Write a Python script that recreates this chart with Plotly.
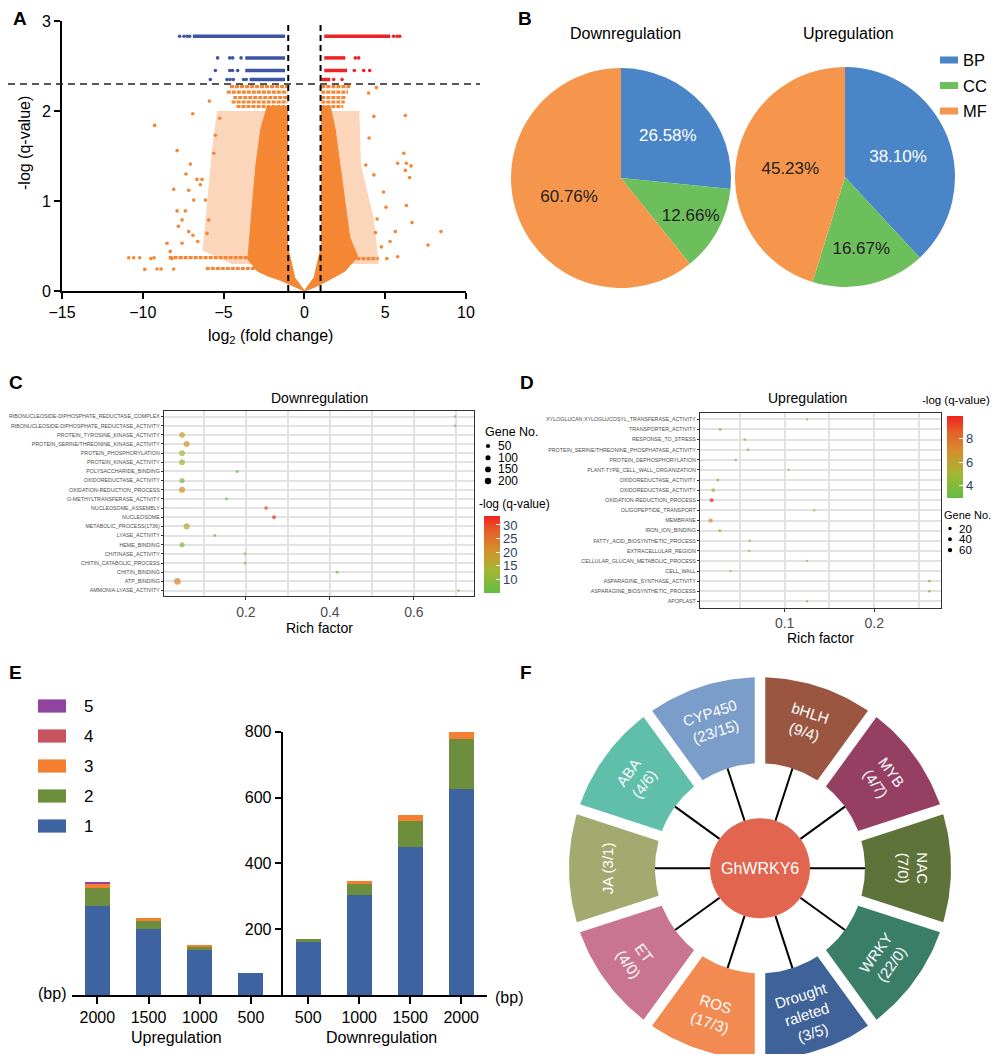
import math
import plotly.graph_objects as go

# the page body keeps an 8 px margin, so the figure is sized to fit the window inside it
OFF = 8
W, H = 1000 - 2 * OFF, 1062 - 2 * OFF
FONT = "Arial, Liberation Sans, sans-serif"

# ---------------- A: volcano plot ----------------
ORANGE, BLUE, RED = "#F58634", "#3B54A4", "#EC2227"

# loosely scattered halo of points (outline)
a_halo_l_x = [-5.4, -1.05, -1.05, -4.5, -6.3, -6.0, -5.7, -5.4]
a_halo_l_y = [2.0, 2.0, 0.3, 0.3, 0.45, 1.0, 1.6, 2.0]
a_halo_r_x = [1.05, 3.4, 3.5, 4.3, 4.6, 1.05, 1.05]
a_halo_r_y = [2.0, 2.0, 1.4, 0.8, 0.3, 0.3, 2.0]
# dense, solid part of the cloud
a_core_l_x = [-1.05, -2.3, -2.7, -3.0, -3.2, -3.4, -3.5, -2.9, -2.3, -1.5, -0.6, 0, -0.6, -1.05, -1.05]
a_core_l_y = [2.05, 2.05, 1.8, 1.4, 1.0, 0.6, 0.35, 0.22, 0.17, 0.12, 0.05, 0, 0.15, 0.5, 2.05]
a_core_r_x = [1.05, 1.6, 1.9, 2.2, 2.5, 2.8, 3.3, 2.5, 1.5, 0.6, 0, 0.6, 1.05, 1.05]
a_core_r_y = [2.05, 2.05, 1.8, 1.4, 1.0, 0.6, 0.38, 0.22, 0.12, 0.04, 0, 0.15, 0.5, 2.05]
# isolated points
a_out_x = [-9.27, -6.91, -7.88, -7.06, -7.33, -8.09, -6.65, -6.34, -7.16, -6.85, -7.88, -7.37,
           -7.57, -8.5, -8.3, -7.57, -10.87, -10.56, -10.19, -9.88, -9.5, -9.3, -9.12, -8.87,
           -8.09, -5.88, -5.24, -5.51, -5.61, -6.44, -6.13, -5.92, -6.03, -7.16, -6.6, -6.9,
           -7.8, -8.2,
           6.25, 6.15, 5.77, 6.31, 6.6, 6.25, 6.51, 6.31, 6.66, 8.45, 7.65, 5.77, 5.63, 5.05,
           4.3, 4.3, 3.97, 4.45, 5.1, 4.76, 4.5, 4.9, 4.0, 3.8, 4.4, 5.3]
a_out_y = [1.84, 1.97, 1.56, 1.41, 1.30, 1.13, 1.24, 1.24, 1.12, 1.01, 0.89, 0.89,
           0.79, 0.53, 0.44, 0.53, 0.37, 0.37, 0.37, 0.24, 0.36, 0.37, 0.245, 0.245,
           0.245, 2.11, 1.92, 1.73, 1.53, 1.18, 1.01, 0.79, 0.64, 0.66, 0.55, 0.62,
           0.72, 0.36,
           1.95, 1.53, 1.42, 1.42, 1.39, 1.34, 1.26, 0.95, 0.76, 0.66, 0.51, 0.38, 0.66, 0.93,
           1.29, 1.94, 2.2, 2.26, 0.36, 0.49, 0.8, 1.1, 1.7, 1.4, 0.65, 0.55]
# rows of points at discrete q-values
a_orange_row_y = [2.27, 2.21, 2.15, 2.10, 2.05, 0.37, 0.25, 2.27, 2.21, 2.15, 2.10, 2.05, 0.36]
a_orange_row_x0 = [-4.6, -4.8, -4.4, -4.5, -4.2, -8.4, -6.1, 1.05, 1.05, 1.05, 1.05, 1.05, 2.6]
a_orange_row_x1 = [-1.05, -1.05, -1.05, -1.05, -1.05, -2.3, -2.8, 2.9, 2.7, 2.6, 2.5, 2.4, 4.6]
a_blue_row_y = [2.83, 2.59, 2.45, 2.35]
a_blue_row_x0 = [-6.9, -3.66, -3.66, -3.39]
a_blue_row_x1 = [-1.2, -1.2, -1.2, -1.2]
a_blue_dot_x = [-7.72, -7.45, -7.25, -7.1, -5.37, -4.62, -4.44, -3.92, -5.51, -4.62, -4.45,
                -4.13, -5.82, -4.79, -4.6, -4.4, -3.76, -3.6]
a_blue_dot_y = [2.83, 2.83, 2.83, 2.83, 2.59, 2.59, 2.59, 2.59, 2.45, 2.45, 2.45,
                2.45, 2.35, 2.35, 2.35, 2.35, 2.35, 2.35]
a_red_row_y = [2.83, 2.59, 2.45, 2.35]
a_red_row_x0 = [1.23, 1.23, 1.23, 1.05]
a_red_row_x1 = [5.32, 2.53, 2.64, 1.6]
a_red_dot_x = [5.52, 5.73, 5.9, 3.15, 3.36, 3.09, 3.67, 4.04, 1.81, 2.33]
a_red_dot_y = [2.83, 2.83, 2.83, 2.59, 2.59, 2.45, 2.45, 2.45, 2.35, 2.35]
a_fc_cut = [-1, 1]
a_q_cut = 2.3

# ---------------- B: GO category pies ----------------
go_cats = ["BP", "CC", "MF"]
go_colors = ["#4A85C7", "#6DBF5B", "#F6964D"]
pie_down = [26.58, 12.66, 60.76]
pie_up = [38.10, 16.67, 45.23]

# ---------------- C: downregulated enrichment ----------------
c_terms = ["RIBONUCLEOSIDE-DIPHOSPHATE_REDUCTASE_COMPLEX", "RIBONUCLEOSIDE-DIPHOSPHATE_REDUCTASE_ACTIVITY",
           "PROTEIN_TYROSINE_KINASE_ACTIVITY", "PROTEIN_SERINE/THREONINE_KINASE_ACTIVITY",
           "PROTEIN_PHOSPHORYLATION", "PROTEIN_KINASE_ACTIVITY", "POLYSACCHARIDE_BINDING",
           "OXIDOREDUCTASE_ACTIVITY", "OXIDATION-REDUCTION_PROCESS", "O-METHYLTRANSFERASE_ACTIVITY",
           "NUCLEOSOME_ASSEMBLY", "NUCLEOSOME", "METABOLIC_PROCESS(1736)", "LYASE_ACTIVITY",
           "HEME_BINDING", "CHITINASE_ACTIVITY", "CHITIN_CATABOLIC_PROCESS", "CHITIN_BINDING",
           "ATP_BINDING", "AMMONIA-LYASE_ACTIVITY"]
c_rich = [0.698, 0.698, 0.048, 0.059, 0.048, 0.048, 0.179, 0.048, 0.048, 0.154,
          0.248, 0.267, 0.059, 0.126, 0.048, 0.198, 0.198, 0.417, 0.037, 0.706]
c_genes = [4, 4, 150, 170, 150, 150, 15, 100, 180, 10, 30, 35, 170, 12, 100, 8, 8, 12, 220, 6]
c_logq = [7, 7, 19, 20, 14, 14, 7, 8.5, 21, 7, 31, 33, 16, 7, 9, 7, 7, 7, 23, 7]
c_size_keys = [50, 100, 150, 200]

# ---------------- D: upregulated enrichment ----------------
d_terms = ["XYLOGLUCAN:XYLOGLUCOSYL_TRANSFERASE_ACTIVITY", "TRANSPORTER_ACTIVITY", "RESPONSE_TO_STRESS",
           "PROTEIN_SERINE/THREONINE_PHOSPHATASE_ACTIVITY", "PROTEIN_DEPHOSPHORYLATION",
           "PLANT-TYPE_CELL_WALL_ORGANIZATION", "OXIDOREDUCTASE_ACTIVITY", "OXIDOREDUCTASE_ACTIVITY",
           "OXIDATION-REDUCTION_PROCESS", "OLIGOPEPTIDE_TRANSPORT", "MEMBRANE", "IRON_ION_BINDING",
           "FATTY_ACID_BIOSYNTHETIC_PROCESS", "EXTRACELLULAR_REGION", "CELLULAR_GLUCAN_METABOLIC_PROCESS",
           "CELL_WALL", "ASPARAGINE_SYNTHASE_ACTIVITY", "ASPARAGINE_BIOSYNTHETIC_PROCESS", "APOPLAST"]
d_rich = [0.125, 0.028, 0.0555, 0.059, 0.0455, 0.1045, 0.0254, 0.0203, 0.0185, 0.133,
          0.0174, 0.0276, 0.061, 0.0604, 0.125, 0.0395, 0.2615, 0.2615, 0.125]
d_genes = [2, 10, 4, 4, 5, 2, 15, 35, 50, 2, 55, 20, 3, 3, 2, 3, 10, 10, 2]
d_logq = [3.5, 3.6, 3.5, 3.5, 3.5, 3.4, 3.8, 5.5, 9.8, 3.4, 7.2, 4.6, 3.5, 3.5, 3.4, 3.5, 3.8, 3.8, 3.4]
d_size_keys = [20, 40, 60]

# ---------------- E: promoter motif counts ----------------
e_up_len = ["2000", "1500", "1000", "500"]
e_down_len = ["500", "1000", "1500", "2000"]
e_levels = ["1", "2", "3", "4", "5"]
e_colors = ["#3D63A0", "#6C8E3D", "#F47F31", "#C7535E", "#8F45A0"]
e_up = [[270, 200, 137, 68], [56, 26, 11, 0], [13, 9, 3, 0], [1, 0, 0, 0], [3, 0, 0, 0]]
e_down = [[161, 304, 450, 625], [10, 37, 78, 153], [0, 6, 19, 21], [0, 0, 0, 0], [0, 0, 0, 0]]

# ---------------- F: interaction wheel ----------------
f_hub = "GhWRKY6"
f_labels = ["bHLH<br>(9/4)", "MYB<br>(4/7)", "NAC<br>(7/0)", "WRKY<br>(22/0)",
            "Drought<br>raleted<br>(3/5)", "ROS<br>(17/3)", "ET<br>(4/0)", "JA (3/1)",
            "ABA<br>(4/6)", "CYP450<br>(23/15)"]
f_colors = ["#9A5641", "#953F63", "#5E7339", "#3B7E67", "#3F6299",
            "#F38A51", "#C97591", "#A3AA6F", "#5FBFAA", "#7A9DC9"]

CSCALE = [[0, "#62BD45"], [0.3, "#A4B632"], [0.55, "#D2912B"], [0.8, "#E5612A"], [1, "#F0231E"]]


def dot_size(n):
    return 1.8 + 0.33 * math.sqrt(n)


def segs(x0s, x1s, ys):
    xs, yy = [], []
    for a, b, y in zip(x0s, x1s, ys):
        xs += [a, b, None]
        yy += [y, y, None]
    return xs, yy


def fx(p):
    return (p - OFF) / W


def fy(p):
    return 1 - (p - OFF) / H


def note(x, y, text, size=14, xa="center", ya="middle", color="black", bold=False, **kw):
    if bold:
        text = "<b>" + text + "</b>"
    return dict(x=fx(x), y=fy(y), xref="paper", yref="paper", text=text, showarrow=False,
                xanchor=xa, yanchor=ya, font=dict(family=FONT, size=size, color=color), **kw)


fig = go.Figure()
ann, shapes = [], []

# ---- A ----
for xs, ys in [(a_halo_l_x, a_halo_l_y), (a_halo_r_x, a_halo_r_y)]:
    fig.add_trace(go.Scatter(x=xs, y=ys, mode="lines", fill="toself", line=dict(width=0),
                             fillcolor="rgba(245,134,52,0.34)", xaxis="x", yaxis="y", hoverinfo="skip"))
for xs, ys in [(a_core_l_x, a_core_l_y), (a_core_r_x, a_core_r_y)]:
    fig.add_trace(go.Scatter(x=xs, y=ys, mode="lines", fill="toself", line=dict(width=1, color=ORANGE),
                             fillcolor=ORANGE, xaxis="x", yaxis="y", hoverinfo="skip"))
rx, ry = segs(a_orange_row_x0, a_orange_row_x1, a_orange_row_y)
fig.add_trace(go.Scatter(x=rx, y=ry, mode="lines", line=dict(width=3.2, color=ORANGE, dash="4px,1px"),
                         xaxis="x", yaxis="y"))
fig.add_trace(go.Scatter(x=a_out_x, y=a_out_y, mode="markers", marker=dict(size=3.6, color=ORANGE),
                         xaxis="x", yaxis="y"))
for x0, x1, yy, dx, dy, col in [(a_blue_row_x0, a_blue_row_x1, a_blue_row_y, a_blue_dot_x, a_blue_dot_y, BLUE),
                                (a_red_row_x0, a_red_row_x1, a_red_row_y, a_red_dot_x, a_red_dot_y, RED)]:
    rx, ry = segs(x0, x1, yy)
    fig.add_trace(go.Scatter(x=rx, y=ry, mode="lines", line=dict(width=3.5, color=col),
                             xaxis="x", yaxis="y"))
    fig.add_trace(go.Scatter(x=dx, y=dy, mode="markers", marker=dict(size=3.6, color=col),
                             xaxis="x", yaxis="y"))
for xc in a_fc_cut:
    shapes.append(dict(type="line", xref="x", yref="y", x0=xc, x1=xc, y0=0, y1=3,
                       line=dict(color="black", width=2, dash="6px,4px")))
shapes.append(dict(type="line", xref="paper", yref="y", x0=fx(OFF), x1=fx(480), y0=a_q_cut, y1=a_q_cut,
                   line=dict(color="#222", width=1.3, dash="7px,5px")))
ann += [note(20, 18, "A", 19, bold=True),
        note(25, 143, "-log (q-value)", 16, textangle=-90),
        note(270, 336, "log<sub>2</sub> (fold change)", 16)]

# ---- B ----
for vals, x0, x1, y0, y1, title, tx in [(pie_down, 511, 731, 68, 288, "Downregulation", 625),
                                        (pie_up, 735, 955, 67, 287, "Upregulation", 848)]:
    fig.add_trace(go.Pie(labels=go_cats, values=vals, sort=False, direction="clockwise", rotation=0,
                         domain=dict(x=[fx(x0), fx(x1)], y=[fy(y1), fy(y0)]),
                         marker=dict(colors=go_colors, line=dict(width=0)),
                         texttemplate="%{value:.2f}%", textposition="inside",
                         insidetextorientation="horizontal",
                         textfont=dict(family=FONT, size=17, color=["white", "#222", "#222"]),
                         hoverinfo="skip"))
    ann.append(note(tx, 33, title, 16))
for i, (cat, col) in enumerate(zip(go_cats, go_colors)):
    yc = 60 + i * 25.5
    shapes.append(dict(type="rect", xref="paper", yref="paper", x0=fx(940), x1=fx(958),
                       y0=fy(yc + 3.5), y1=fy(yc - 3.5), fillcolor=col, line=dict(width=0)))
    ann.append(note(961, yc, cat, 16.5, xa="left"))
ann.append(note(525, 18, "B", 19, bold=True))

# ---- C ----
fig.add_trace(go.Scatter(x=c_rich, y=list(range(len(c_terms))), mode="markers",
                         marker=dict(size=[dot_size(n) for n in c_genes], color=c_logq,
                                     coloraxis="coloraxis", line=dict(width=0)),
                         xaxis="x2", yaxis="y2"))
ann += [note(16, 383, "C", 19, bold=True),
        note(319, 398, "Downregulation", 14),
        note(319, 628, "Rich factor", 14),
        note(483, 432, "Gene No.", 12.5, xa="left"),
        note(477, 504, "-log (q-value)", 12, xa="left")]
for i, n in enumerate(c_size_keys):
    yc = 446 + i * 11.7
    d = dot_size(n)
    shapes.append(dict(type="circle", xref="paper", yref="paper", x0=fx(488 - d / 2), x1=fx(488 + d / 2),
                       y0=fy(yc + d / 2), y1=fy(yc - d / 2), fillcolor="black", line=dict(width=0)))
    ann.append(note(496, yc, str(n), 12, xa="left"))

# ---- D ----
fig.add_trace(go.Scatter(x=d_rich, y=list(range(len(d_terms))), mode="markers",
                         marker=dict(size=[dot_size(n) for n in d_genes], color=d_logq,
                                     coloraxis="coloraxis2", line=dict(width=0)),
                         xaxis="x3", yaxis="y3"))
ann += [note(527, 383, "D", 19, bold=True),
        note(807, 398, "Upregulation", 14),
        note(820, 638, "Rich factor", 14),
        note(942, 515, "Gene No.", 11, xa="left"),
        note(920, 400, "-log (q-value)", 11.5, xa="left")]
for i, n in enumerate(d_size_keys):
    yc = 528.5 + i * 10.8
    d = dot_size(n)
    shapes.append(dict(type="circle", xref="paper", yref="paper", x0=fx(950 - d / 2), x1=fx(950 + d / 2),
                       y0=fy(yc + d / 2), y1=fy(yc - d / 2), fillcolor="black", line=dict(width=0)))
    ann.append(note(957, yc, str(n), 11.5, xa="left"))

# ---- E ----
for lvl, col, up, down in zip(e_levels, e_colors, e_up, e_down):
    fig.add_trace(go.Bar(x=e_up_len, y=up, marker=dict(color=col, line=dict(width=0)),
                         xaxis="x4", yaxis="y4"))
    fig.add_trace(go.Bar(x=e_down_len, y=down, marker=dict(color=col, line=dict(width=0)),
                         xaxis="x5", yaxis="y5"))
for i, (lvl, col) in enumerate(zip(e_levels[::-1], e_colors[::-1])):
    yc = 706 + i * 30
    shapes.append(dict(type="rect", xref="paper", yref="paper", x0=fx(38), x1=fx(66),
                       y0=fy(yc + 6.6), y1=fy(yc - 6.6), fillcolor=col, line=dict(width=0)))
    ann.append(note(82, yc, lvl, 17, xa="left"))
ann += [note(15, 672, "E", 19, bold=True),
        note(52, 993, "(bp)", 16),
        note(493, 997, "(bp)", 16, xa="left"),
        note(176, 1037, "Upregulation", 16),
        note(381, 1037, "Downregulation", 16)]

# ---- F ----
R_OUT, R_IN, HUB, GAP, LABEL_R = 191, 105, 50, 10.5, 153
nseg = len(f_labels)
for k, (lab, col) in enumerate(zip(f_labels, f_colors)):
    g0, g1 = 2 * math.pi * k / nseg, 2 * math.pi * (k + 1) / nseg
    xs, ys = [], []
    for r, rev in [(R_OUT, False), (R_IN, True)]:
        off = math.asin(GAP / 2 / r)
        steps = [g0 + off + (g1 - g0 - 2 * off) * j / 30 for j in range(31)]
        if rev:
            steps = steps[::-1]
        xs += [r * math.sin(a) for a in steps]
        ys += [r * math.cos(a) for a in steps]
    fig.add_trace(go.Scatter(x=xs, y=ys, mode="lines", fill="toself", fillcolor=col,
                             line=dict(width=0), xaxis="x6", yaxis="y6", hoverinfo="skip"))
    mid = 360 * (k + 0.5) / nseg
    rot = mid if mid <= 90 else (mid - 180 if mid < 270 else mid - 360)
    ann.append(dict(x=LABEL_R * math.sin(math.radians(mid)), y=LABEL_R * math.cos(math.radians(mid)),
                    xref="x6", yref="y6", text=lab, showarrow=False, textangle=rot,
                    font=dict(family=FONT, size=15, color="white")))
sx, sy = [], []
for k in range(nseg):
    a = 2 * math.pi * (k + 0.5) / nseg
    sx += [HUB * math.sin(a), R_IN * math.sin(a), None]
    sy += [HUB * math.cos(a), R_IN * math.cos(a), None]
fig.add_trace(go.Scatter(x=sx, y=sy, mode="lines", line=dict(color="black", width=2),
                         xaxis="x6", yaxis="y6"))
shapes.append(dict(type="circle", xref="x6", yref="y6", x0=-HUB, x1=HUB, y0=-HUB, y1=HUB,
                   fillcolor="#E1654F", line=dict(width=0)))
ann.append(dict(x=0, y=0, xref="x6", yref="y6", text=f_hub, showarrow=False,
                font=dict(family=FONT, size=16, color="white")))
ann.append(note(526, 672, "F", 19, bold=True))

# ---- axes ----
black_axis = dict(showline=True, linecolor="black", linewidth=2, ticks="outside", ticklen=6,
                  tickwidth=2, tickcolor="black", showgrid=False, zeroline=False,
                  tickfont=dict(family=FONT, size=16, color="black"))
enrich_x = dict(showline=True, mirror=True, linecolor="#333", linewidth=1.3, ticks="outside",
                ticklen=3, tickcolor="#333", zeroline=False, showgrid=True, gridcolor="#E2E2E2",
                gridwidth=1.5, tickfont=dict(family=FONT, size=14, color="#4D4D4D"))
enrich_y = dict(showline=True, mirror=True, linecolor="#333", linewidth=1.3, ticks="outside",
                ticklen=2, tickcolor="#333", zeroline=False, showgrid=True, gridcolor="#E2E2E2",
                gridwidth=2, tickfont=dict(family=FONT, size=5.3, color="#4D4D4D"))

fig.update_layout(
    width=W, height=H, margin=dict(l=0, r=0, t=0, b=0, autoexpand=False), showlegend=False,
    paper_bgcolor="white", plot_bgcolor="white", barmode="stack", bargap=0.51,
    font=dict(family=FONT),
    xaxis=dict(domain=[fx(62), fx(466)], anchor="y", range=[-15, 10], tickvals=[-15, -10, -5, 0, 5, 10],
               **black_axis),
    yaxis=dict(domain=[fy(291), fy(21)], anchor="x", range=[0, 3], tickvals=[0, 1, 2, 3], **black_axis),
    xaxis2=dict(domain=[fx(164), fx(474)], anchor="y2", range=[0.005, 0.743], tickvals=[0.2, 0.4, 0.6],
                minor=dict(tickvals=[0.1, 0.3, 0.5, 0.7], showgrid=True, gridcolor="#E2E2E2", gridwidth=1.5),
                **enrich_x),
    yaxis2=dict(domain=[fy(596), fy(411)], anchor="x2", range=[len(c_terms) - 0.4, -0.6],
                tickvals=list(range(len(c_terms))), ticktext=c_terms, **enrich_y),
    xaxis3=dict(domain=[fx(700), fx(941)], anchor="y3", range=[0.0055, 0.2745], tickvals=[0.1, 0.2],
                minor=dict(tickvals=[0.05, 0.15, 0.25], showgrid=True, gridcolor="#E2E2E2", gridwidth=1.5),
                **enrich_x),
    yaxis3=dict(domain=[fy(607.5), fy(413.3)], anchor="x3", range=[len(d_terms) - 0.4, -0.6],
                tickvals=list(range(len(d_terms))), ticktext=d_terms, **enrich_y),
    xaxis4=dict(domain=[fx(71.7), fx(282.7)], anchor="y4", type="category", range=[-0.5, 3.62],
                **{**black_axis, "ticklen": 7}),
    yaxis4=dict(domain=[fy(995), fy(731.7)], anchor="x4", range=[0, 800], visible=False),
    xaxis5=dict(domain=[fx(282.7), fx(486.7)], anchor="y5", type="category", range=[-0.5, 3.5],
                **{**black_axis, "ticklen": 7}),
    yaxis5=dict(domain=[fy(995), fy(731.7)], anchor="x5", range=[0, 800], tickvals=[200, 400, 600, 800],
                **black_axis),
    xaxis6=dict(domain=[fx(560), fx(960)], anchor="y6", range=[-200, 200], visible=False),
    yaxis6=dict(domain=[0, fy(670)], anchor="x6", range=[-185.7, 198.3], visible=False),
    coloraxis=dict(cmin=5.1, cmax=33.4, colorscale=CSCALE,
                   colorbar=dict(x=fx(484), xanchor="left", y=fy(515.7), yanchor="top", len=77,
                                 lenmode="pixels", thickness=16, xpad=0, ypad=0, outlinewidth=0,
                                 tickvals=[10, 15, 20, 25, 30], ticks="inside", ticklen=4,
                                 tickcolor="white", tickfont=dict(family=FONT, size=13))),
    coloraxis2=dict(cmin=3.0, cmax=9.9, colorscale=CSCALE,
                    colorbar=dict(x=fx(946.7), xanchor="left", y=fy(415.7), yanchor="top", len=82,
                                  lenmode="pixels", thickness=16, xpad=0, ypad=0, outlinewidth=0,
                                  tickvals=[4, 6, 8], ticks="inside", ticklen=4,
                                  tickcolor="white", tickfont=dict(family=FONT, size=13))),
    annotations=ann, shapes=shapes,
)

fig.write_html("out.html")
